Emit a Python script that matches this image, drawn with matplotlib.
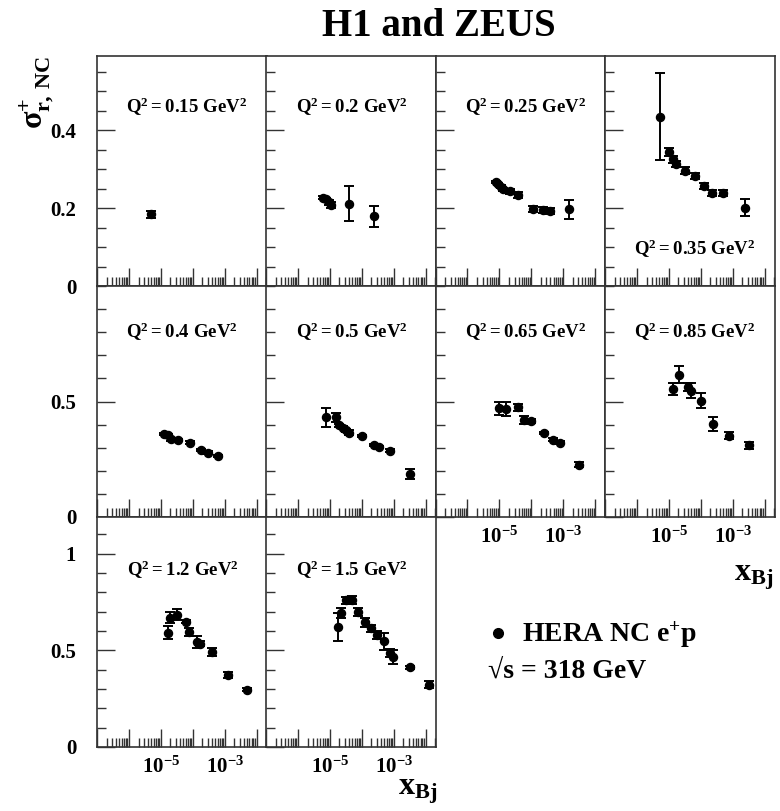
import matplotlib
matplotlib.use("Agg")
import matplotlib.pyplot as plt
from matplotlib.ticker import FixedLocator, LogLocator, NullFormatter, FixedFormatter

plt.rcParams['font.family'] = ['Liberation Serif', 'DejaVu Serif']
plt.rcParams['font.weight'] = 'bold'
plt.rcParams['mathtext.fontset'] = 'custom'
plt.rcParams['mathtext.rm'] = 'Liberation Serif:bold'
plt.rcParams['mathtext.it'] = 'Liberation Serif:bold'
plt.rcParams['mathtext.bf'] = 'Liberation Serif:bold'
plt.rcParams['mathtext.default'] = 'rm'

# ---------------- data ----------------
q2_labels = ["0.15", "0.2", "0.25", "0.35", "0.4", "0.5", "0.65", "0.85", "1.2", "1.5"]

x_015 = [5.1e-6]
s_015 = [0.184]
e_015 = [0.009]

x_02 = [6.0e-6, 7.6e-6, 9.5e-6, 1.1e-5, 4.1e-5, 2.45e-4]
s_02 = [0.227, 0.223, 0.215, 0.207, 0.211, 0.179]
e_02 = [0.004, 0.004, 0.006, 0.008, 0.045, 0.027]

x_025 = [7.8e-6, 9.3e-6, 1.1e-5, 1.32e-5, 2.24e-5, 3.9e-5, 1.1e-4, 2.34e-4, 3.8e-4, 1.58e-3]
s_025 = [0.266, 0.261, 0.255, 0.248, 0.243, 0.233, 0.197, 0.195, 0.193, 0.197]
e_025 = [0.003, 0.003, 0.003, 0.004, 0.006, 0.008, 0.008, 0.007, 0.008, 0.024]

x_035 = [5.2e-6, 1.0e-5, 1.38e-5, 1.74e-5, 3.3e-5, 6.8e-5, 1.29e-4, 2.24e-4, 5.1e-4, 2.5e-3]
s_035 = [0.434, 0.344, 0.325, 0.313, 0.296, 0.282, 0.257, 0.239, 0.239, 0.201]
e_035 = [0.112, 0.010, 0.009, 0.008, 0.008, 0.008, 0.008, 0.008, 0.008, 0.022]

x_04 = [1.26e-5, 1.66e-5, 2.14e-5, 3.5e-5, 8.5e-5, 1.78e-4, 3.0e-4, 6.3e-4]
s_04 = [0.358, 0.355, 0.336, 0.332, 0.322, 0.290, 0.279, 0.264]
e_04 = [0.005, 0.005, 0.005, 0.005, 0.005, 0.005, 0.005, 0.005]

x_05 = [7.6e-6, 1.58e-5, 2.0e-5, 2.57e-5, 3.2e-5, 4.1e-5, 1.0e-4, 2.4e-4, 3.5e-4, 7.9e-4, 3.2e-3]
s_05 = [0.431, 0.431, 0.397, 0.387, 0.375, 0.365, 0.351, 0.312, 0.303, 0.287, 0.187]
e_05 = [0.043, 0.018, 0.006, 0.006, 0.008, 0.012, 0.006, 0.006, 0.006, 0.006, 0.022]

x_065 = [9.8e-6, 1.58e-5, 3.9e-5, 6.0e-5, 1.0e-4, 2.45e-4, 4.8e-4, 7.9e-4, 3.1e-3]
s_065 = [0.470, 0.467, 0.476, 0.420, 0.415, 0.363, 0.335, 0.322, 0.227]
e_065 = [0.029, 0.029, 0.015, 0.017, 0.010, 0.005, 0.005, 0.005, 0.012]

x_085 = [1.32e-5, 2.1e-5, 4.0e-5, 5.1e-5, 1.0e-4, 2.5e-4, 7.8e-4, 3.2e-3]
s_085 = [0.553, 0.615, 0.562, 0.547, 0.504, 0.401, 0.352, 0.310]
e_085 = [0.025, 0.037, 0.017, 0.034, 0.032, 0.030, 0.014, 0.014]

x_12 = [1.7e-5, 1.95e-5, 3.2e-5, 6.3e-5, 7.9e-5, 1.32e-4, 1.66e-4, 3.9e-4, 1.32e-3, 5.1e-3]
s_12 = [0.592, 0.669, 0.685, 0.648, 0.595, 0.543, 0.535, 0.491, 0.372, 0.297]
e_12 = [0.032, 0.028, 0.027, 0.008, 0.020, 0.032, 0.015, 0.020, 0.017, 0.008]

x_15 = [1.86e-5, 2.2e-5, 3.2e-5, 4.9e-5, 7.8e-5, 1.29e-4, 2.0e-4, 3.0e-4, 4.9e-4, 7.9e-4, 9.5e-4, 3.2e-3, 1.32e-2]
s_15 = [0.619, 0.693, 0.759, 0.762, 0.700, 0.646, 0.614, 0.578, 0.547, 0.488, 0.466, 0.412, 0.322]
e_15 = [0.072, 0.026, 0.017, 0.020, 0.020, 0.024, 0.017, 0.020, 0.043, 0.020, 0.034, 0.008, 0.017]

panels_x = [x_015, x_02, x_025, x_035, x_04, x_05, x_065, x_085, x_12, x_15]
panels_s = [s_015, s_02, s_025, s_035, s_04, s_05, s_065, s_085, s_12, s_15]
panels_e = [e_015, e_02, e_025, e_035, e_04, e_05, e_065, e_085, e_12, e_15]

# ---------------- layout ----------------
W, H = 780, 811
fig = plt.figure(figsize=(W / 100, H / 100), dpi=100)

col_left = [97, 266, 435.5, 605]
col_w = 169.5
row_bottom = [286, 517, 747]
row_h = [230, 231, 230]
row_ylim = [(0, 0.59), (0, 1.0), (0, 1.19)]
row_major = [[0, 0.2, 0.4], [0, 0.5], [0, 0.5, 1.0]]
row_major_lab = [["0", "0.2", "0.4"], ["0", "0.5"], ["0", "0.5", "1"]]
row_minor_step = [0.05, 0.1, 0.1]

label_pos = [(0.53, 0.78), (0.51, 0.78), (0.53, 0.78), (0.53, 0.16),
             (0.50, 0.80), (0.51, 0.80), (0.53, 0.80), (0.53, 0.80),
             (0.51, 0.77), (0.51, 0.77)]

bottom_panels = {6, 7, 8, 9}
axcol = '#333333'

for i in range(10):
    r, c = divmod(i, 4)
    l = col_left[c]
    b = row_bottom[r]
    ax = fig.add_axes([l / W, 1 - b / H, col_w / W, row_h[r] / H])
    ax.set_xscale('log')
    ax.set_xlim(1e-7, 2.05e-2)
    ax.set_ylim(*row_ylim[r])
    ax.errorbar(panels_x[i], panels_s[i], yerr=panels_e[i], fmt='o', color='black',
                markersize=5.8, elinewidth=1.4, capsize=3.5, capthick=1.4, zorder=3)
    # x ticks
    ax.xaxis.set_major_locator(FixedLocator([1e-7, 1e-6, 1e-5, 1e-4, 1e-3, 1e-2]))
    ax.xaxis.set_minor_locator(LogLocator(base=10, subs=[2, 3, 4, 5, 6, 7, 8, 9], numticks=20))
    ax.xaxis.set_minor_formatter(NullFormatter())
    if i in bottom_panels:
        ax.xaxis.set_major_formatter(FixedFormatter(['', '', r'$10^{-5}$', '', r'$10^{-3}$', '']))
    else:
        ax.xaxis.set_major_formatter(NullFormatter())
    # y ticks
    ax.yaxis.set_major_locator(FixedLocator(row_major[r]))
    step = row_minor_step[r]
    ymax = row_ylim[r][1]
    minors = [k * step for k in range(1, int(ymax / step + 1e-6) + 1)]
    ax.yaxis.set_minor_locator(FixedLocator(minors))
    if c == 0:
        ax.yaxis.set_major_formatter(FixedFormatter(row_major_lab[r]))
    else:
        ax.yaxis.set_major_formatter(NullFormatter())
    ax.tick_params(axis='both', which='both', direction='in', top=False, right=False,
                   color=axcol, width=1.0)
    ax.tick_params(axis='y', which='major', length=13, pad=15, labelsize=15)
    ax.tick_params(axis='y', which='minor', length=6.5)
    ax.tick_params(axis='x', which='major', length=13, pad=7, labelsize=15)
    ax.tick_params(axis='x', which='minor', length=6.5)
    for sp in ax.spines.values():
        sp.set_color(axcol)
        sp.set_linewidth(1.2)
    lx, ly = label_pos[i]
    ax.text(lx, ly, r'$Q^2 = %s\ GeV^2$' % q2_labels[i], transform=ax.transAxes,
            ha='center', va='center', fontsize=13.5)

# title
fig.text(439 / W, 1 - 26 / H, 'H1 and ZEUS', ha='center', va='center',
         fontsize=28, fontweight='bold')

# y label
fig.text(37 / W, 1 - 56 / H, r'$\sigma^{+}_{r,\,NC}$', rotation=90,
         ha='center', va='top', fontsize=23)

# x labels
fig.text(773 / W, 1 - 578 / H, r'$x_{Bj}$', ha='right', va='center', fontsize=23)
fig.text(437 / W, 1 - 792 / H, r'$x_{Bj}$', ha='right', va='center', fontsize=23)

# legend block
fig.lines.append(plt.Line2D([498 / W], [1 - 633 / H], marker='o', color='black',
                            markersize=7, transform=fig.transFigure, figure=fig))
fig.text(522 / W, 1 - 642 / H, r'HERA NC e$^{+}$p', ha='left', va='baseline', fontsize=20)
fig.text(488 / W, 1 - 678 / H, '\u221as = 318 GeV', ha='left', va='baseline', fontsize=20)

fig.savefig('out.png', dpi=100)
